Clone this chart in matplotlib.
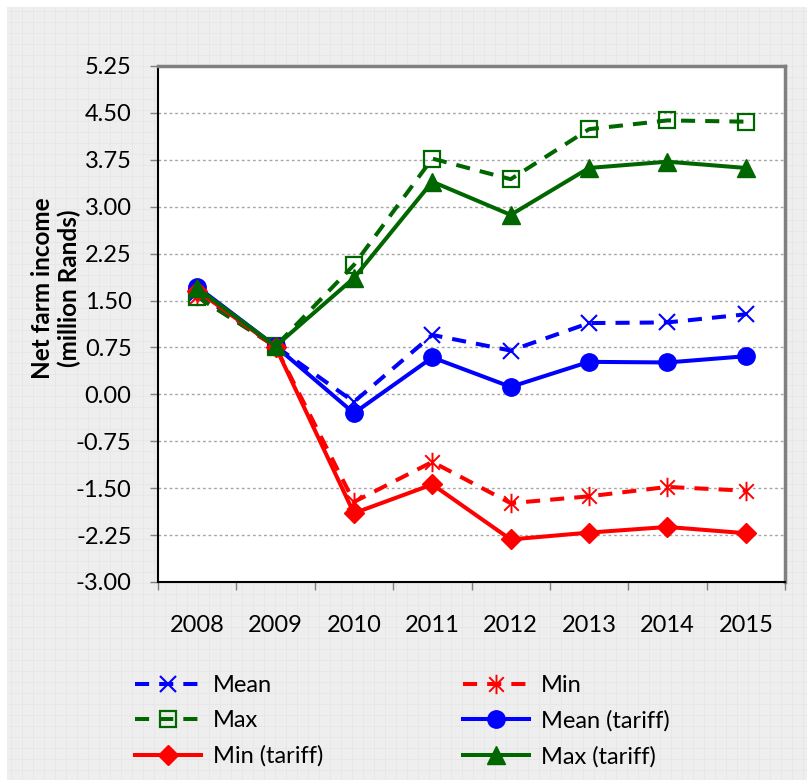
import numpy as np
import matplotlib
matplotlib.use("Agg")
import matplotlib.pyplot as plt
from matplotlib.path import Path

plt.rcParams['font.family'] = ['Lato', 'DejaVu Sans']

years = ['2008', '2009', '2010', '2011', '2012', '2013', '2014', '2015']
mean = [1.62, 0.77, -0.12, 0.95, 0.70, 1.14, 1.15, 1.28]
min_ = [1.57, 0.76, -1.72, -1.08, -1.74, -1.63, -1.48, -1.54]
max_ = [1.56, 0.77, 2.07, 3.77, 3.44, 4.24, 4.38, 4.36]
mean_tariff = [1.72, 0.77, -0.30, 0.59, 0.12, 0.52, 0.51, 0.61]
min_tariff = [1.66, 0.76, -1.90, -1.44, -2.32, -2.21, -2.12, -2.22]
max_tariff = [1.70, 0.77, 1.86, 3.40, 2.87, 3.62, 3.72, 3.62]

yticks = [-3.00, -2.25, -1.50, -0.75, 0.00, 0.75, 1.50, 2.25, 3.00, 3.75, 4.50, 5.25]

BLUE = '#0000ff'
RED = '#ff0000'
GREEN = '#006600'

# Excel style star: vertical bar + diagonal cross
star = Path([(0, -1), (0, 1), (-0.75, -0.75), (0.75, 0.75), (-0.75, 0.75), (0.75, -0.75)],
            [Path.MOVETO, Path.LINETO, Path.MOVETO, Path.LINETO, Path.MOVETO, Path.LINETO])

W, H, DPI = 807, 780, 100
fig = plt.figure(figsize=(W / DPI, H / DPI), dpi=DPI)
fig.patch.set_facecolor('white')

# textured grey backdrop
bg = np.full((H, W, 3), 0.94)
yy, xx = np.mgrid[0:H, 0:W]
bg[(xx % 11 == 0) | (yy % 11 == 0)] = 0.912
bg[((xx + yy) % 2 == 0)] -= 0.01
bg[:7, :] = 1.0
bg[:, :7] = 1.0
fig.figimage(bg, xo=0, yo=0, zorder=0, origin='upper')

ax = fig.add_axes([158 / W, 1 - 582 / H, 627 / W, 516 / H])
ax.set_zorder(1)
ax.set_facecolor('white')

x = np.arange(len(years))
dash = (3.5, 2.5)
lw = 2.9

ax.plot(x, mean, color=BLUE, lw=lw, ls=(0, dash), marker='x', ms=12, mew=1.5, label='Mean', zorder=3)
ax.plot(x, min_, color=RED, lw=lw, ls=(0, dash), marker=star, ms=14, mew=1.4, label='Min', zorder=3)
ax.plot(x, max_, color=GREEN, lw=lw, ls=(0, dash), marker='s', ms=11.5, mew=1.6, mfc='none', label='Max', zorder=3)
ax.plot(x, mean_tariff, color=BLUE, lw=lw, marker='o', ms=12.5, label='Mean (tariff)', zorder=4)
ax.plot(x, min_tariff, color=RED, lw=lw, marker='D', ms=10, label='Min (tariff)', zorder=4)
ax.plot(x, max_tariff, color=GREEN, lw=lw, marker='^', ms=13, label='Max (tariff)', zorder=4)

ax.set_xlim(-0.5, len(years) - 0.5)
ax.set_ylim(-3.0, 5.25)
ax.set_yticks(yticks)
ax.set_yticklabels([f'{v:.2f}' for v in yticks])
ax.yaxis.grid(True, color='#a6a6a6', ls=(0, (2, 2)), lw=1)
ax.set_axisbelow(True)

# ticks on category boundaries, labels in the middle
ax.set_xticks(np.arange(-0.5, len(years)))
ax.set_xticklabels([])
ax.set_xticks(x, minor=True)
ax.set_xticklabels(years, minor=True)
ax.tick_params(axis='x', which='major', length=6, width=1, color='#808080', direction='out')
ax.tick_params(axis='x', which='minor', length=0, pad=24, labelsize=17)
ax.tick_params(axis='y', length=6, width=1, color='#808080', pad=13, labelsize=17)

for side in ['left', 'bottom']:
    ax.spines[side].set_color('black')
    ax.spines[side].set_linewidth(1.5)
for side in ['top', 'right']:
    ax.spines[side].set_color('#808080')
    ax.spines[side].set_linewidth(2.5)

fig.text(56 / W, 1 - 288 / H, 'Net farm income\n(million Rands)', rotation=90,
         ha='center', va='center', fontsize=17.5, fontweight='bold', linespacing=1.2)

handles, labels = ax.get_legend_handles_labels()
order = [0, 2, 4, 1, 3, 5]
leg = fig.legend([handles[i] for i in order], [labels[i] for i in order], ncol=2,
                 loc='upper left', bbox_to_anchor=(135 / W, 1 - 675 / H), frameon=False,
                 fontsize=17, handlelength=2.8, handletextpad=0.5, columnspacing=5.9,
                 labelspacing=0.6, borderpad=0, borderaxespad=0)

fig.savefig('out.png', dpi=DPI, facecolor=fig.get_facecolor())
